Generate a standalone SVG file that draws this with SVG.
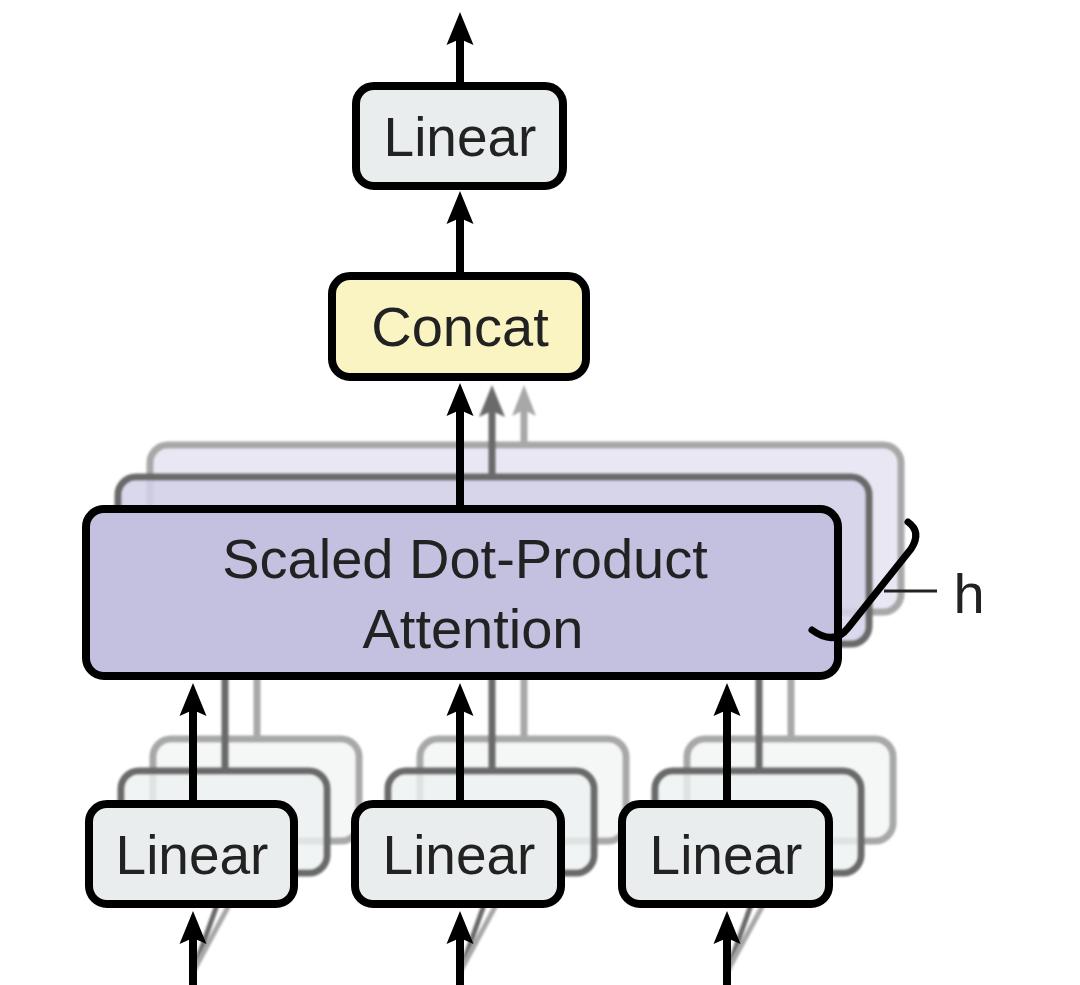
<svg xmlns="http://www.w3.org/2000/svg" width="1080" height="985" viewBox="0 0 1080 985">
<defs>
<style>
.txt{font-family:"Liberation Sans",Arial,sans-serif;fill:#222;text-anchor:middle}
.lin{fill:#e9eded;stroke:#000;stroke-width:8}
.lin2{fill:#eef1f1;fill-opacity:0.8;stroke:#6a6a6a;stroke-width:7}
.lin3{fill:#f5f7f7;stroke:#a8a8a8;stroke-width:7}
.att{fill:#c4c0e0;stroke:#000;stroke-width:8}
.att2{fill:#d4d1e9;fill-opacity:0.85;stroke:#6a6a6a;stroke-width:7}
.att3{fill:#e9e7f3;stroke:#a8a8a8;stroke-width:7}
.cc{fill:#faf4c2;stroke:#000;stroke-width:8}
.k{stroke:#000;stroke-width:8;fill:none}
.g1{stroke:#6a6a6a;stroke-width:7;fill:none}
.g2{stroke:#a8a8a8;stroke-width:7;fill:none}
.soft{filter:url(#blur)}
</style>
<filter id="blur" filterUnits="userSpaceOnUse" x="0" y="0" width="1080" height="985"><feGaussianBlur stdDeviation="1.2"/></filter>
<marker id="ak" viewBox="-15 -15 40 30" markerWidth="40" markerHeight="30" refX="0" refY="0" orient="auto" markerUnits="userSpaceOnUse"><path d="M20,0 L-13,-13.5 L-7,0 L-13,13.5 Z" fill="#000"/></marker>
<marker id="ag1" viewBox="-15 -15 40 30" markerWidth="40" markerHeight="30" refX="0" refY="0" orient="auto" markerUnits="userSpaceOnUse"><path d="M20,0 L-12,-13 L-6,0 L-12,13 Z" fill="#6a6a6a"/></marker>
<marker id="ag2" viewBox="-15 -15 40 30" markerWidth="40" markerHeight="30" refX="0" refY="0" orient="auto" markerUnits="userSpaceOnUse"><path d="M20,0 L-11,-12 L-5,0 L-11,12 Z" fill="#a8a8a8"/></marker>
</defs>
<rect width="1080" height="985" fill="#fff"/>

<!-- back/middle layers -->
<g id="attention-head3" class="soft"><rect class="att3" x="150" y="445" width="751" height="167" rx="18"/></g>
<g id="attention-head2" class="soft"><rect class="att2" x="118" y="477" width="751" height="167" rx="18"/></g>

<g id="linear-v-head3" class="soft"><rect class="lin3" x="153" y="739" width="206" height="102" rx="18"/></g>
<g id="linear-v-head2" class="soft"><rect class="lin2" x="121" y="771" width="206" height="102" rx="18"/></g>
<g id="linear-k-head3" class="soft"><rect class="lin3" x="420" y="739" width="206" height="102" rx="18"/></g>
<g id="linear-k-head2" class="soft"><rect class="lin2" x="388" y="771" width="206" height="102" rx="18"/></g>
<g id="linear-q-head3" class="soft"><rect class="lin3" x="687" y="739" width="206" height="102" rx="18"/></g>
<g id="linear-q-head2" class="soft"><rect class="lin2" x="655" y="771" width="206" height="102" rx="18"/></g>

<g id="connectors">
<line class="k" x1="460" y1="86" x2="460" y2="32" marker-end="url(#ak)"/>
<line class="k" x1="460" y1="276" x2="460" y2="211" marker-end="url(#ak)"/>
<g class="soft">
<line class="g2" x1="524" y1="445" x2="524" y2="405" marker-end="url(#ag2)"/>
<line class="g1" x1="492" y1="477" x2="492" y2="405" marker-end="url(#ag1)"/>
</g>
<line class="k" x1="460" y1="509" x2="460" y2="403" marker-end="url(#ak)"/>
<g class="soft">
<line class="g1" x1="225" y1="676" x2="225" y2="771"/>
<line class="g2" x1="257" y1="676" x2="257" y2="739"/>
<line class="g1" x1="492" y1="676" x2="492" y2="771"/>
<line class="g2" x1="524" y1="676" x2="524" y2="739"/>
<line class="g1" x1="759" y1="676" x2="759" y2="771"/>
<line class="g2" x1="791" y1="676" x2="791" y2="739"/>
<line class="g1" x1="193" y1="972" x2="217" y2="905" style="stroke-width:5"/>
<line class="g2" x1="193" y1="972" x2="229" y2="905" style="stroke-width:5"/>
<line class="g1" x1="460" y1="972" x2="484" y2="905" style="stroke-width:5"/>
<line class="g2" x1="460" y1="972" x2="496" y2="905" style="stroke-width:5"/>
<line class="g1" x1="727" y1="972" x2="751" y2="905" style="stroke-width:5"/>
<line class="g2" x1="727" y1="972" x2="763" y2="905" style="stroke-width:5"/>
</g>
<line class="k" x1="193" y1="804" x2="193" y2="703" marker-end="url(#ak)"/>
<line class="k" x1="460" y1="804" x2="460" y2="703" marker-end="url(#ak)"/>
<line class="k" x1="727" y1="804" x2="727" y2="703" marker-end="url(#ak)"/>
<line class="k" x1="193" y1="990" x2="193" y2="931" marker-end="url(#ak)"/>
<line class="k" x1="460" y1="990" x2="460" y2="931" marker-end="url(#ak)"/>
<line class="k" x1="727" y1="990" x2="727" y2="931" marker-end="url(#ak)"/>
</g>

<g id="linear-out"><rect class="lin" x="356" y="86" width="207" height="100" rx="18"/><text class="txt" x="460" y="156" font-size="55">Linear</text></g>
<g id="concat"><rect class="cc" x="332" y="276" width="254" height="101" rx="18"/><text class="txt" x="460" y="346" font-size="56">Concat</text></g>
<g id="attention"><rect class="att" x="86" y="509" width="752" height="167" rx="18"/>
<text class="txt" x="465" y="578" font-size="56">Scaled Dot-Product</text>
<text class="txt" x="473" y="648" font-size="56">Attention</text></g>

<g id="linear-v"><rect class="lin" x="89" y="804" width="205" height="100" rx="18"/><text class="txt" x="192" y="874" font-size="55">Linear</text></g>
<g id="linear-k"><rect class="lin" x="355" y="804" width="206" height="100" rx="18"/><text class="txt" x="459" y="874" font-size="55">Linear</text></g>
<g id="linear-q"><rect class="lin" x="622" y="804" width="207" height="100" rx="18"/><text class="txt" x="726" y="874" font-size="55">Linear</text></g>

<g id="heads-label">
<path d="M812,630 Q834,646 848,628 L911,549 Q922,532 908,522" fill="none" stroke="#000" stroke-width="7" stroke-linecap="round"/>
<line x1="884" y1="591" x2="937" y2="591" stroke="#222" stroke-width="3"/>
<text class="txt" x="969" y="613" font-size="56">h</text>
</g>
</svg>
